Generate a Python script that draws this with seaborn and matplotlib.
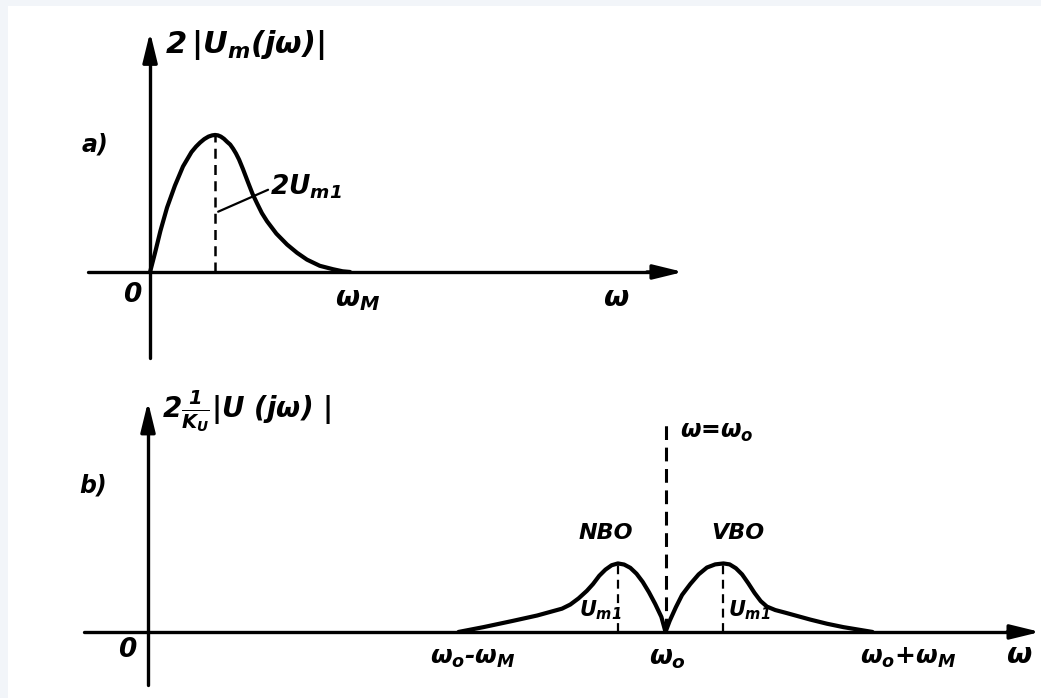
import matplotlib
matplotlib.use('Agg')
import matplotlib.pyplot as plt
from matplotlib.patches import Rectangle
import seaborn as sns

# a) spectrum of the modulating signal (omega in units of omega_M, peak 2Um1 = 1)
omega_a = [0.0, 0.012, 0.024, 0.05, 0.082, 0.12, 0.159, 0.2, 0.222, 0.242, 0.262,
           0.282, 0.3, 0.314, 0.328, 0.342, 0.357, 0.372, 0.387, 0.401, 0.415,
           0.43, 0.449, 0.473, 0.495, 0.517, 0.54, 0.565, 0.61, 0.662, 0.71, 0.758,
           0.82, 0.884, 0.93, 0.966]
amp_a = [0.0, 0.07, 0.14, 0.3, 0.47, 0.63, 0.77, 0.875, 0.915, 0.945, 0.97,
         0.988, 0.997, 1.0, 0.997, 0.988, 0.972, 0.95, 0.93, 0.9, 0.865,
         0.82, 0.75, 0.655, 0.57, 0.5, 0.43, 0.37, 0.28, 0.20, 0.14, 0.09,
         0.045, 0.02, 0.005, 0.0]
peak_a = 0.314

# b) spectrum of the AM signal, lower (NBO) and upper (VBO) side bands
omega_b = [1.5, 1.62, 1.76, 1.88, 2.0, 2.04, 2.08, 2.12, 2.15, 2.18, 2.21, 2.24,
           2.27, 2.30, 2.33, 2.36, 2.39, 2.42, 2.45, 2.48, 2.5,
           2.52, 2.55, 2.58, 2.62, 2.66, 2.70, 2.74, 2.78, 2.81, 2.84, 2.87, 2.90,
           2.93, 2.96, 2.99, 3.03, 3.08, 3.14, 3.2, 3.28, 3.36, 3.44, 3.5]
amp_b = [0.0, 0.035, 0.08, 0.12, 0.17, 0.2, 0.245, 0.3, 0.35, 0.41, 0.455, 0.487,
         0.5, 0.492, 0.468, 0.425, 0.365, 0.29, 0.205, 0.11, 0.0,
         0.08, 0.18, 0.27, 0.35, 0.42, 0.47, 0.493, 0.5, 0.493, 0.465, 0.42, 0.355,
         0.285, 0.225, 0.185, 0.16, 0.14, 0.115, 0.09, 0.06, 0.035, 0.015, 0.0]
omega_0 = 2.5
nbo_peak = 2.27
vbo_peak = 2.78

sns.set_theme(style='white')
plt.rcParams['font.family'] = ['DejaVu Sans']
plt.rcParams['mathtext.fontset'] = 'custom'
plt.rcParams['mathtext.it'] = 'DejaVu Sans:italic:bold'
plt.rcParams['mathtext.rm'] = 'DejaVu Sans:italic:bold'
plt.rcParams['mathtext.bf'] = 'DejaVu Sans:italic:bold'

fig = plt.figure(figsize=(10.41, 6.98), dpi=100, facecolor='#f2f5f9')
fig.patches.append(Rectangle((8 / 1041, 0), 1, 692 / 698, transform=fig.transFigure,
                             facecolor='white', edgecolor='none', zorder=-5))

ax_a = fig.add_axes([0, 0.47, 1, 0.53])
ax_b = fig.add_axes([0, 0, 1, 0.47])
for ax in (ax_a, ax_b):
    ax.set_axis_off()
    ax.patch.set_alpha(0)
ax_a.set_xlim(-0.725, 4.304)
ax_a.set_ylim(-0.715, 1.985)
ax_b.set_xlim(-0.715, 4.314)
ax_b.set_ylim(-0.482, 1.912)

arrow = dict(arrowstyle='-|>,head_length=0.9,head_width=0.22', lw=2.4, color='black',
             shrinkA=0, shrinkB=0, mutation_scale=20)
curve = dict(color='black', lw=3.0, solid_capstyle='round', solid_joinstyle='round')
txt = dict(color='black', fontweight='bold', fontstyle='italic')

# ---- panel a
ax_a.plot([-0.30, 2.5], [0, 0], color='black', lw=2.4)
ax_a.annotate('', xy=(2.575, 0), xytext=(2.4, 0), arrowprops=arrow)
ax_a.plot([0, 0], [-0.63, 1.6], color='black', lw=2.4)
ax_a.annotate('', xy=(0, 1.75), xytext=(0, 1.55), arrowprops=arrow)
sns.lineplot(x=omega_a, y=amp_a, ax=ax_a, estimator=None, sort=False, **curve)
ax_a.vlines(peak_a, 0, 1.0, colors='black', lw=1.8, linestyles=(0, (4, 2.5)))
ax_a.plot([peak_a + 0.015, 0.57], [0.44, 0.60], color='black', lw=1.6)

ax_a.text(0.072, 1.66, r'$2\,|U_m(j\omega)|$', fontsize=22, ha='left', va='center', **txt)
ax_a.text(-0.33, 0.93, 'a)', fontsize=17, ha='left', va='center', **txt)
ax_a.text(-0.087, -0.17, '0', fontsize=19, ha='center', va='center', **txt)
ax_a.text(1.0, -0.20, r'$\omega_M$', fontsize=20, ha='center', va='center', **txt)
ax_a.text(2.25, -0.19, r'$\omega$', fontsize=21, ha='center', va='center', **txt)
ax_a.text(0.58, 0.62, r'$2U_{m1}$', fontsize=19, ha='left', va='center', **txt)

# ---- panel b
ax_b.plot([-0.31, 4.2], [0, 0], color='black', lw=2.4)
ax_b.annotate('', xy=(4.31, 0), xytext=(4.15, 0), arrowprops=arrow)
ax_b.plot([0, 0], [-0.39, 1.5], color='black', lw=2.4)
ax_b.annotate('', xy=(0, 1.68), xytext=(0, 1.5), arrowprops=arrow)
sns.lineplot(x=omega_b, y=amp_b, ax=ax_b, estimator=None, sort=False, **curve)
ax_b.vlines(omega_0, 0, 1.55, colors='black', lw=2.2, linestyles=(0, (4.5, 2.5)))
ax_b.vlines([nbo_peak, vbo_peak], 0, 0.5, colors='black', lw=1.6, linestyles=(0, (4, 2.5)))

ax_b.text(0.068, 1.61, r'$2\frac{1}{K_U}|U\ (j\omega)\ |$', fontsize=20, ha='left', va='center', **txt)
ax_b.text(-0.33, 1.07, 'b)', fontsize=17, ha='left', va='center', **txt)
ax_b.text(-0.10, -0.13, '0', fontsize=19, ha='center', va='center', **txt)
ax_b.text(1.57, -0.19, r'$\omega_o$-$\omega_M$', fontsize=18, ha='center', va='center', **txt)
ax_b.text(2.51, -0.19, r'$\omega_o$', fontsize=19, ha='center', va='center', **txt)
ax_b.text(3.67, -0.19, r'$\omega_o$+$\omega_M$', fontsize=18, ha='center', va='center', **txt)
ax_b.text(4.21, -0.17, r'$\omega$', fontsize=21, ha='center', va='center', **txt)
ax_b.text(2.57, 1.46, r'$\omega$=$\omega_o$', fontsize=17, ha='left', va='center', **txt)
ax_b.text(2.21, 0.72, 'NBO', fontsize=16, ha='center', va='center', **txt)
ax_b.text(2.85, 0.72, 'VBO', fontsize=16, ha='center', va='center', **txt)
ax_b.text(2.08, 0.16, r'$U_{m1}$', fontsize=15, ha='left', va='center', **txt)
ax_b.text(2.80, 0.16, r'$U_{m1}$', fontsize=15, ha='left', va='center', **txt)

fig.savefig('out.png', dpi=100, facecolor=fig.get_facecolor())
